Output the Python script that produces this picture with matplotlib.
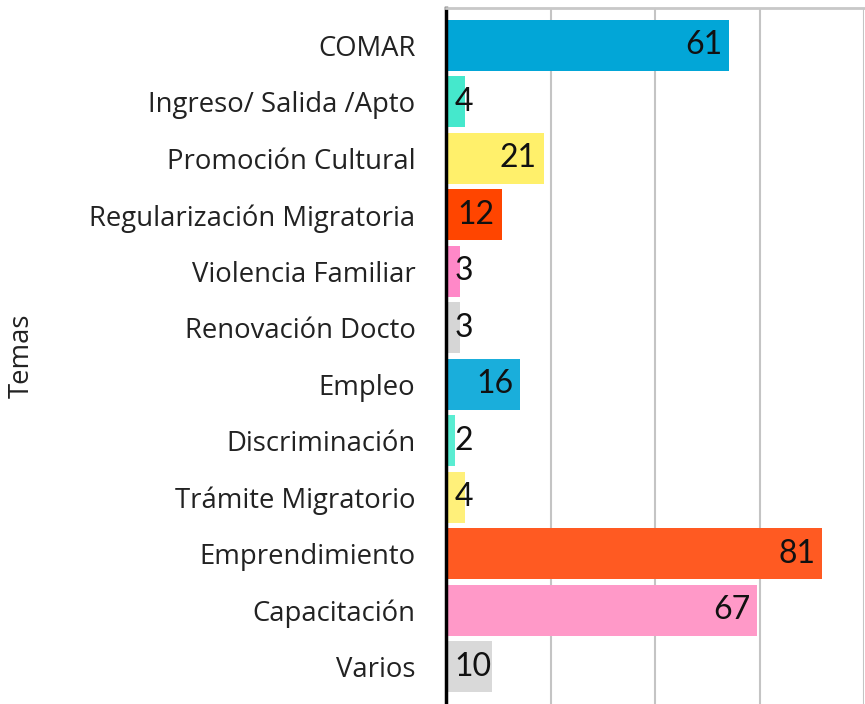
import matplotlib.pyplot as plt


temas = ["COMAR", "Ingreso/ Salida /Apto", "Promoción Cultural", "Regularización Migratoria",
         "Violencia Familiar", "Renovación Docto", "Empleo", "Discriminación",
         "Trámite Migratorio", "Emprendimiento", "Capacitación", "Varios"]
casos = [61, 4, 21, 12, 3, 3, 16, 2, 4, 81, 67, 10]
colores = ["#02A6D7", "#45E8CC", "#FFF06B", "#FF4500", "#FF88C8", "#D6D6D6",
           "#1AAEDB", "#5AEDD2", "#FFF07A", "#FF5A22", "#FF99C8", "#D9D9D9"]

plt.rcParams['font.family'] = ['Open Sans', 'DejaVu Sans']

fig, ax = plt.subplots(figsize=(8.65, 7.04), dpi=100)
fig.subplots_adjust(left=0.5156, right=0.999, top=0.9886, bottom=0.0)

posiciones = list(range(len(temas)))
ax.barh(posiciones, casos, color=colores, height=0.9, zorder=2)

# etiquetas con el valor de cada barra
for pos, valor in zip(posiciones, casos):
    if valor >= 12:
        ax.text(valor - 1.5, pos, str(valor), ha="right", va="center", fontsize=23,
                family="Lato", color="#111111", zorder=3)
    else:
        ax.text(1.8, pos, str(valor), ha="left", va="center", fontsize=23,
                family="Lato", color="#111111", zorder=3)

ax.set_xlim(0, 90)
ax.set_ylim(len(temas) - 0.34, -0.66)
ax.set_xticks([22.5, 45, 67.5, 90])
ax.set_xticklabels([])
ax.grid(axis="x", color="#C4C4C4", linewidth=1.5, zorder=0)
ax.set_yticks(posiciones)
ax.set_yticklabels(temas, fontsize=19.8, color="#222222")
ax.tick_params(axis="y", length=0, pad=22)
ax.tick_params(axis="x", length=0)
ax.set_ylabel("Temas", fontsize=19.8, color="#222222")
ax.yaxis.set_label_coords(-0.98, 0.5)

ax.spines["left"].set_linewidth(2.5)
ax.spines["left"].set_color("black")
ax.spines["top"].set_color("#C8C8C8")
ax.spines["top"].set_linewidth(2)
ax.spines["right"].set_visible(False)
ax.spines["bottom"].set_visible(False)

fig.savefig("out.png")
